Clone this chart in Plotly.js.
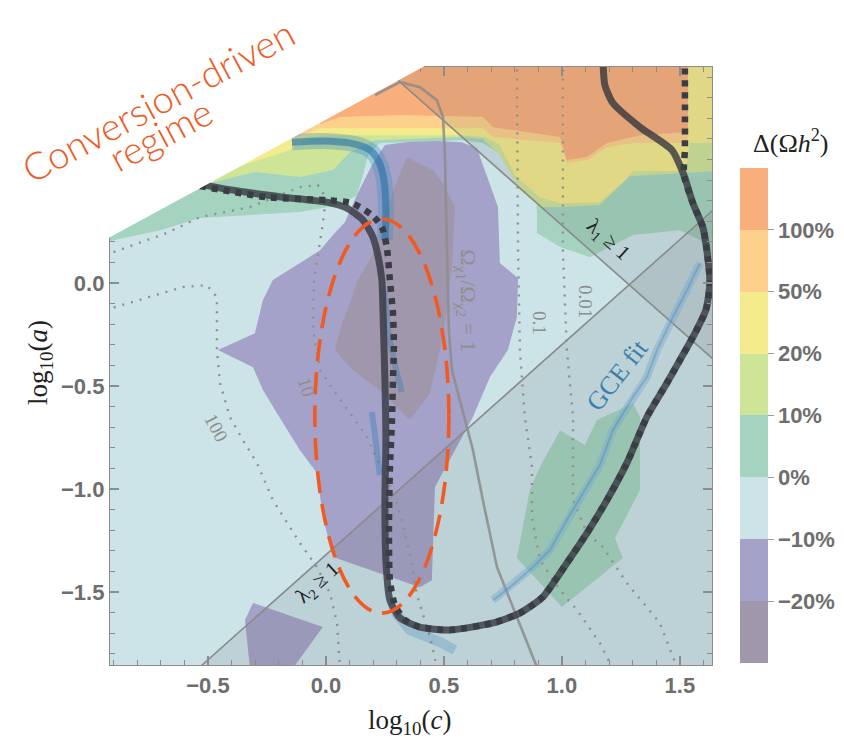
<!DOCTYPE html>
<html>
<head>
<meta charset="utf-8">
<script src="https://cdn.plot.ly/plotly-3.0.1.min.js"></script>
<style>html,body{margin:0;padding:0;background:#fff;}#plot{width:844px;height:749px;}</style>
</head>
<body>
<div id="plot"></div>
<script>
// Axis window in (log10 c, log10 a)
const X_RANGE = [-0.915, 1.636];
const Y_RANGE = [-1.854, 1.049];

// Colour bands of the relative relic-density shift, lowest first
const bandLabels = ['−20%', '−10%', '0%', '10%', '20%', '50%', '100%'];
const bandColors = ['#a197ad', '#a4a2c8', '#cce4e8', '#a4d4bf', '#cee497', '#f4eb8c', '#fdd18b', '#f9af7c'];

// Lower edges of the positive-shift regions (each region extends to the top of the frame)
const dev0X = [-0.936, -0.703, -0.534, -0.309, -0.110, 0.059, 0.131, 0.157, 0.178, 0.229, 0.576, 0.665, 0.780, 0.894, 0.894, 0.992, 1.119, 1.301, 1.500, 1.585, 1.648];
const dev0Y = [0.199, 0.257, 0.316, 0.330, 0.345, 0.379, 0.427, 0.524, 0.621, 0.680, 0.694, 0.680, 0.597, 0.403, 0.243, 0.175, 0.126, 0.233, 0.257, 0.209, 0.102];
const dev10X = [-0.619, -0.492, -0.301, -0.110, 0.030, 0.102, 0.208, 0.576, 0.665, 0.737, 0.822, 0.907, 0.992, 1.161, 1.288, 1.542, 1.648];
const dev10Y = [0.408, 0.485, 0.539, 0.515, 0.549, 0.636, 0.694, 0.709, 0.699, 0.621, 0.451, 0.369, 0.369, 0.379, 0.519, 0.534, 0.544];
const dev20X = [-0.373, -0.258, -0.153, -0.068, 0.017, 0.576, 0.674, 0.737, 0.801, 0.907, 0.992, 1.161, 1.267, 1.301, 1.525, 1.542, 1.648];
const dev20Y = [0.563, 0.607, 0.646, 0.704, 0.718, 0.718, 0.709, 0.670, 0.524, 0.417, 0.388, 0.393, 0.500, 0.544, 0.544, 0.680, 0.680];
const dev50X = [-0.131, -0.025, 0.453, 0.665, 0.708, 0.992, 1.021, 1.106, 1.191, 1.301, 1.534];
const dev50Y = [0.704, 0.752, 0.752, 0.752, 0.709, 0.680, 0.583, 0.597, 0.660, 0.680, 0.680];
const dev100X = [-0.025, 0.059, 0.314, 0.665, 0.708, 0.992, 1.021, 1.106, 1.191, 1.331, 1.534];
const dev100Y = [0.772, 0.806, 0.816, 0.806, 0.757, 0.709, 0.597, 0.612, 0.680, 0.718, 0.733];

// Negative-shift islands and the small positive island
const minus10X = [-0.110, -0.025, 0.030, 0.081, 0.131, 0.195, 0.250, 0.398, 0.576, 0.640, 0.729, 0.737, 0.814, 0.809, 0.771, 0.695, 0.623, 0.547, 0.462, 0.449, 0.398, 0.030, -0.013, -0.038, -0.110, -0.208, -0.267, -0.309, -0.458, -0.301, -0.267, -0.225];
const minus10Y = [0.097, 0.160, 0.233, 0.296, 0.427, 0.573, 0.670, 0.694, 0.684, 0.655, 0.369, 0.097, 0.024, -0.165, -0.325, -0.456, -0.650, -0.811, -0.990, -1.442, -1.476, -1.330, -1.136, -0.922, -0.811, -0.631, -0.519, -0.408, -0.325, -0.243, -0.083, 0.015];
const minus20X = [0.343, 0.453, 0.496, 0.547, 0.534, 0.496, 0.441, 0.356, 0.242, 0.114, 0.038, 0.059, 0.136, 0.208, 0.284];
const minus20Y = [0.612, 0.549, 0.485, 0.369, 0.078, -0.262, -0.534, -0.665, -0.534, -0.422, -0.325, -0.228, 0.015, 0.160, 0.451];
const patchLowX = [-0.309, -0.013, -0.140, -0.322, -0.343];
const patchLowY = [-1.553, -1.670, -1.870, -1.870, -1.636];
const patchPosX = [0.809, 0.864, 0.907, 0.992, 1.097, 1.148, 1.301, 1.331, 1.331, 1.225, 1.258, 1.000];
const patchPosY = [-1.335, -1.005, -0.893, -0.714, -0.786, -0.665, -0.583, -0.650, -1.005, -1.238, -1.335, -1.573];

// Perturbativity boundaries lambda_1 = 1 and lambda_2 = 1
const lambda1X = [0.093, 1.700];
const lambda1Y = [1.200, -0.429];
const lambda2X = [-0.550, 1.700];
const lambda2Y = [-1.880, 0.415];

// Omega_chi1 / Omega_chi2 = 1
const ratioX = [0.208, 0.314, 0.398, 0.470, 0.496, 0.504, 0.513, 0.521, 0.534, 0.568, 0.623, 0.665, 0.725, 0.809, 0.894];
const ratioY = [0.913, 0.976, 0.951, 0.888, 0.806, 0.631, 0.160, -0.228, -0.422, -0.568, -0.811, -1.053, -1.379, -1.621, -1.864];

// Observed relic density: full calculation (solid) and reference calculation (dotted)
const relicX = [-0.555, -0.513, -0.343, -0.182, 0.004, 0.089, 0.157, 0.199, 0.220, 0.237, 0.242, 0.250, 0.254, 0.250, 0.254, 0.271, 0.314, 0.398, 0.525, 0.708, 0.822, 0.919, 1.021, 1.106, 1.191, 1.275, 1.360, 1.445, 1.500, 1.564, 1.610, 1.627, 1.614, 1.597, 1.555, 1.517, 1.466, 1.331, 1.216, 1.182, 1.174];
const relicY = [0.500, 0.476, 0.442, 0.417, 0.393, 0.364, 0.306, 0.223, 0.136, 0.015, -0.146, -0.471, -0.762, -1.053, -1.345, -1.539, -1.626, -1.670, -1.684, -1.650, -1.602, -1.524, -1.359, -1.214, -1.053, -0.874, -0.650, -0.485, -0.374, -0.243, -0.131, 0.000, 0.160, 0.272, 0.388, 0.524, 0.646, 0.757, 0.874, 0.961, 1.080];
const relicRefX = [-0.534, -0.250, 0.004, 0.110, 0.195, 0.237, 0.258, 0.271, 0.284, 0.288, 0.284, 0.280, 0.271, 0.267, 0.271, 0.292, 0.335, 0.398, 0.525, 0.708, 0.822, 0.919, 1.021, 1.106, 1.191, 1.275, 1.360, 1.445, 1.500, 1.564, 1.610, 1.627, 1.614, 1.597, 1.555, 1.517, 1.521, 1.521];
const relicRefY = [0.471, 0.417, 0.403, 0.388, 0.330, 0.272, 0.175, 0.015, -0.146, -0.311, -0.471, -0.665, -0.908, -1.199, -1.442, -1.563, -1.636, -1.670, -1.684, -1.650, -1.602, -1.524, -1.359, -1.214, -1.053, -0.874, -0.650, -0.485, -0.374, -0.243, -0.131, 0.000, 0.160, 0.272, 0.388, 0.524, 0.646, 1.080];

// Dotted iso-lines of the second relic abundance
const iso100X = [-0.936, -0.746, -0.606, -0.504, -0.462, -0.462, -0.449, -0.407, -0.352, -0.292, -0.225, -0.110, -0.038, 0.017, 0.047, 0.059];
const iso100Y = [-0.131, -0.068, -0.019, -0.010, -0.068, -0.325, -0.485, -0.650, -0.762, -0.874, -1.053, -1.262, -1.379, -1.505, -1.650, -1.864];
const iso10X = [-0.936, -0.674, -0.534, -0.322, -0.110, -0.034, 0.000, -0.017, -0.051, -0.055, -0.025, 0.038, 0.102, 0.174, 0.229, 0.280, 0.322, 0.356, 0.386, 0.441, 0.470];
const iso10Y = [0.136, 0.243, 0.320, 0.369, 0.466, 0.476, 0.413, 0.257, 0.015, -0.228, -0.422, -0.529, -0.631, -0.748, -0.883, -1.005, -1.150, -1.320, -1.515, -1.718, -1.864];
const iso01X = [0.809, 0.814, 0.822, 0.843, 0.873, 0.873, 0.907, 0.992, 1.064, 1.161, 1.212];
const iso01Y = [1.080, 0.160, -0.325, -0.650, -0.893, -1.136, -1.345, -1.490, -1.587, -1.748, -1.864];
const iso001X = [1.004, 1.004, 1.021, 1.047, 1.047, 1.106, 1.174, 1.275, 1.415, 1.487];
const iso001Y = [1.080, 0.160, -0.325, -0.650, -1.053, -1.214, -1.282, -1.456, -1.650, -1.864];

// Galactic-centre-excess preferred bands
const gceTopX = [-0.144, 0.017, 0.123, 0.186, 0.225, 0.246, 0.254, 0.250];
const gceTopY = [0.684, 0.689, 0.675, 0.646, 0.587, 0.500, 0.354, 0.209];
const gceMidX = [0.246, 0.263, 0.297, 0.322];
const gceMidY = [-0.034, -0.228, -0.422, -0.529];
const gceLowX = [0.195, 0.212, 0.229];
const gceLowY = [-0.626, -0.811, -0.932];
const gceFootX = [0.292, 0.356, 0.483, 0.547];
const gceFootY = [-1.597, -1.684, -1.743, -1.782];
const gceFitX = [0.708, 0.780, 0.877, 0.949, 1.021, 1.089, 1.161, 1.216, 1.301, 1.360, 1.403, 1.470, 1.530, 1.585];
const gceFitY = [-1.539, -1.476, -1.379, -1.296, -1.150, -1.019, -0.883, -0.714, -0.553, -0.456, -0.325, -0.165, -0.034, 0.097];

// Highlighted conversion-driven region (bounding box of the ellipse)
const ellipseX = [-0.047, 0.521];
const ellipseY = [-1.602, 0.311];

// Edge of the scanned parameter space (upper-left corner is not covered)
const cutX = [-0.915, 0.411];
const cutY = [0.223, 1.049];

const TOP = 1.3;
function region(xs, ys, color) {
  return {
    x: xs.concat([xs[xs.length - 1], xs[0]]),
    y: ys.concat([TOP, TOP]),
    mode: 'lines', fill: 'toself', fillcolor: color,
    line: {width: 0}, hoverinfo: 'skip', showlegend: false
  };
}
function island(xs, ys, color) {
  return {x: xs, y: ys, mode: 'lines', fill: 'toself', fillcolor: color,
    line: {width: 0}, hoverinfo: 'skip', showlegend: false};
}
function curve(xs, ys, line) {
  return {x: xs, y: ys, mode: 'lines', line: line, hoverinfo: 'skip', showlegend: false};
}

const shade = 'rgba(90,90,90,0.13)';
const dotGrey = {color: '#8f8f8f', width: 2.4, dash: '2px,7px'};

const traces = [
  island(minus10X, minus10Y, bandColors[1]),
  island(minus20X, minus20Y, bandColors[0]),
  island(patchLowX, patchLowY, bandColors[1]),
  island(patchPosX, patchPosY, bandColors[3]),
  region(dev0X, dev0Y, bandColors[3]),
  region(dev10X, dev10Y, bandColors[4]),
  region(dev20X, dev20Y, bandColors[5]),
  region(dev50X, dev50Y, bandColors[6]),
  region(dev100X, dev100Y, bandColors[7]),
  // lambda regions
  island(lambda1X.concat([lambda1X[1], lambda1X[0]]), lambda1Y.concat([TOP, TOP]), shade),
  island(lambda2X.concat([lambda2X[1]]), lambda2Y.concat([lambda2Y[0]]), shade),
  curve(iso100X, iso100Y, dotGrey),
  curve(iso10X, iso10Y, dotGrey),
  curve(iso01X, iso01Y, dotGrey),
  curve(iso001X, iso001Y, dotGrey),
  curve(lambda1X, lambda1Y, {color: '#8a8a8a', width: 1.6}),
  curve(lambda2X, lambda2Y, {color: '#8a8a8a', width: 1.6}),
  curve(ratioX, ratioY, {color: 'rgba(140,140,140,0.85)', width: 2.6}),
  // GCE preferred bands
  curve(gceTopX, gceTopY, {color: 'rgba(70,140,190,0.35)', width: 16, shape: 'spline'}),
  curve(gceTopX, gceTopY, {color: 'rgba(30,110,165,0.55)', width: 7, shape: 'spline'}),
  curve(gceMidX, gceMidY, {color: 'rgba(40,120,180,0.35)', width: 6}),
  curve(gceLowX, gceLowY, {color: 'rgba(40,120,180,0.35)', width: 6}),
  curve(gceFootX, gceFootY, {color: 'rgba(70,140,190,0.30)', width: 10}),
  curve(gceFitX, gceFitY, {color: 'rgba(120,170,205,0.45)', width: 8}),
  curve(gceFitX, gceFitY, {color: 'rgba(60,130,185,0.35)', width: 2}),
  // relic-density curves
  curve(relicX, relicY, {color: 'rgba(50,53,62,0.78)', width: 7, shape: 'spline', smoothing: 0.6}),
  curve(relicRefX, relicRefY, {color: '#3a3d44', width: 6.5, dash: '6px,6px', shape: 'spline', smoothing: 0.6}),
  // colour scale
  {
    x: [null], y: [null], mode: 'markers', hoverinfo: 'skip', showlegend: false,
    marker: {
      color: [0], cmin: 0, cmax: bandColors.length, showscale: true,
      colorscale: bandColors.flatMap((c, i) => [[i / bandColors.length, c], [(i + 1) / bandColors.length, c]]),
      colorbar: {
        x: 1.0465, xanchor: 'left', xpad: 0, y: 0.0033, yanchor: 'bottom', ypad: 0,
        len: 495, lenmode: 'pixels', thickness: 28, thicknessmode: 'pixels',
        outlinewidth: 0,
        tickvals: bandLabels.map((_, i) => i + 1), ticktext: bandLabels,
        ticks: 'outside', ticklen: 6, tickcolor: '#9a9a9a',
        tickfont: {family: 'Liberation Sans, Arial, sans-serif', size: 22, color: '#6e6e6e', weight: 'bold'}
      }
    }
  }
];

// white mask over the uncovered corner, in paper units
const toPaper = (x, y) => [(x - X_RANGE[0]) / (X_RANGE[1] - X_RANGE[0]), (y - Y_RANGE[0]) / (Y_RANGE[1] - Y_RANGE[0])];
const p1 = toPaper(cutX[0], cutY[0]);
const p2 = toPaper(cutX[1], cutY[1]);
const d = [p2[0] - p1[0], p2[1] - p1[1]];
const a = [p1[0] - 0.15 * d[0], p1[1] - 0.15 * d[1]];
const b = [p2[0] + 0.25 * d[0], p2[1] + 0.25 * d[1]];
const maskPath = `M${a[0]},${a[1]} L${b[0]},${b[1]} L${b[0]},1.3 L${a[0]},1.3 Z`;

const tickFont = {family: 'Liberation Sans, Arial, sans-serif', size: 22, color: '#6e6e6e', weight: 'bold'};
const axisCommon = {
  showgrid: false, zeroline: false, showline: true, linecolor: '#8c8c8c', linewidth: 1.2,
  mirror: 'ticks', ticks: 'inside', ticklen: 9, tickwidth: 1.2, tickcolor: '#8c8c8c',
  tickfont: tickFont, tickformat: '.1f', automargin: false,
  minor: {dtick: 0.1, tick0: 0, ticks: 'inside', ticklen: 5, tickwidth: 1, tickcolor: '#8c8c8c'}
};

const serif = 'Liberation Serif, Times New Roman, serif';
const regimeFont = {family: 'Lato, Noto Sans, sans-serif', size: 38, color: '#ee5a24', weight: 300};
const centred = {showarrow: false, xanchor: 'center', yanchor: 'middle'};
const note = (o) => Object.assign({}, centred, o);
const layout = {
  width: 844, height: 749,
  margin: {l: 110, r: 132, t: 67, b: 84, autoexpand: false},
  paper_bgcolor: '#ffffff', plot_bgcolor: bandColors[2],
  showlegend: false,
  xaxis: Object.assign({}, axisCommon, {range: X_RANGE, tickvals: [-0.5, 0, 0.5, 1, 1.5]}),
  yaxis: Object.assign({}, axisCommon, {range: Y_RANGE, tickvals: [-1.5, -1, -0.5, 0]}),
  shapes: [
    {type: 'path', xref: 'paper', yref: 'paper', path: maskPath, fillcolor: '#ffffff', line: {width: 0}, layer: 'above'},
    {type: 'circle', xref: 'x', yref: 'y', x0: ellipseX[0], x1: ellipseX[1], y0: ellipseY[0], y1: ellipseY[1],
     line: {color: '#f15a22', width: 3.6, dash: '22px,11px'}, layer: 'above'}
  ],
  annotations: [
    note({xref: 'paper', yref: 'paper', x: 0.0797, y: 0.9448, text: 'Conversion-driven', textangle: -28, font: regimeFont}),
    note({xref: 'paper', yref: 'paper', x: 0.083, y: 0.8880, text: 'regime', textangle: -28, font: regimeFont}),
    note({xref: 'paper', yref: 'paper', x: 1.1296, y: 0.8746, text: 'Δ(Ω<i>h</i><sup>2</sup>)',
     font: {family: serif, size: 26, color: '#222'}}),
    note({xref: 'paper', yref: 'paper', x: 0.498, y: -0.0953, text: 'log<sub>10</sub>(<i>c</i>)',
     font: {family: serif, size: 27, color: '#222'}}),
    note({xref: 'paper', yref: 'paper', x: -0.1163, y: 0.5067, text: 'log<sub>10</sub>(<i>a</i>)', textangle: -90,
     font: {family: serif, size: 27, color: '#222'}}),
    note({x: 1.233, y: -0.447, text: 'GCE fit', textangle: -52, font: {family: serif, size: 26, color: '#3a7fae'}}),
    note({x: 0.597, y: -0.083, text: 'Ω<sub>χ1</sub>/Ω<sub>χ2</sub> = 1', textangle: 90, font: {family: serif, size: 22, color: '#8e8e8e'}}),
    note({x: 0.907, y: -0.194, text: '0.1', textangle: 90, font: {family: serif, size: 19, color: '#8e8e8e'}}),
    note({x: 1.102, y: -0.092, text: '0.01', textangle: 90, font: {family: serif, size: 19, color: '#8e8e8e'}}),
    note({x: -0.081, y: -0.505, text: '10', textangle: 72, font: {family: serif, size: 19, color: '#8e8e8e'}}),
    note({x: -0.462, y: -0.704, text: '100', textangle: 62, font: {family: serif, size: 19, color: '#8e8e8e'}}),
    note({x: 1.195, y: 0.209, text: 'λ<sub>1</sub> ≥ 1', textangle: 42, font: {family: serif, size: 21, color: '#222'}}),
    note({x: -0.034, y: -1.456, text: 'λ<sub>2</sub> ≥ 1', textangle: -42, font: {family: serif, size: 21, color: '#222'}})
  ]
};

Plotly.newPlot('plot', traces, layout, {displayModeBar: false, staticPlot: true});
</script>
</body>
</html>
